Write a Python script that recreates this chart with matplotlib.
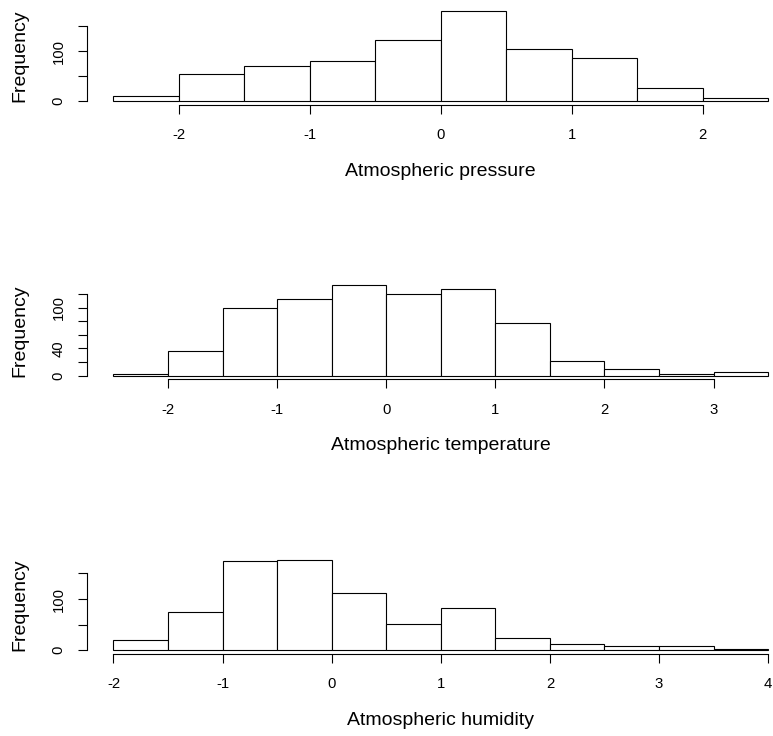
import numpy as np
import matplotlib
matplotlib.use("Agg")
import matplotlib.pyplot as plt

plt.rcParams["font.family"] = ["Liberation Sans", "DejaVu Sans"]
plt.rcParams["axes.unicode_minus"] = False

# histogram counts (bin width 0.5)
pressure_edges = np.arange(-2.5, 2.51, 0.5)
pressure_counts = [11, 54, 71, 80, 123, 180, 105, 87, 27, 7]

temperature_edges = np.arange(-2.5, 3.51, 0.5)
temperature_counts = [2, 36, 100, 113, 133, 120, 128, 77, 22, 10, 3, 6]

humidity_edges = np.arange(-2.0, 4.01, 0.5)
humidity_counts = [21, 74, 175, 176, 112, 51, 82, 24, 12, 9, 8, 2]

xlabels = ["Atmospheric pressure", "Atmospheric temperature", "Atmospheric humidity"]
xticks = [[-2, -1, 0, 1, 2], [-2, -1, 0, 1, 2, 3], [-2, -1, 0, 1, 2, 3, 4]]
yticks = [[0, 50, 100, 150], [0, 20, 40, 60, 80, 100, 120], [0, 50, 100, 150]]
yticklabels = [["0", "", "100", ""], ["0", "", "40", "", "", "100", ""], ["0", "", "100", ""]]

panels = [(pressure_edges, pressure_counts),
          (temperature_edges, temperature_counts),
          (humidity_edges, humidity_counts)]

W, H = 773, 736
fig = plt.figure(figsize=(W / 100, H / 100), dpi=100, facecolor="white")

left_px, width_px, height_px = 87.3, 707.0, 97.4
tops_px = [7.4, 281.8, 556.5]  # top of each plot region in pixels

for i, (edges, counts) in enumerate(panels):
    top = tops_px[i]
    ax = fig.add_axes([left_px / W, 1 - (top + height_px) / H, width_px / W, height_px / H])
    ax.patch.set_alpha(0)
    ax.bar(edges[:-1], counts, width=np.diff(edges), align="edge",
           facecolor="white", edgecolor="black", linewidth=0.8)

    # R style padding (4% each side)
    lo, hi = edges[0], edges[-1]
    pad = 0.04 * (hi - lo)
    ax.set_xlim(lo - pad, hi + pad)
    ymax = max(counts)
    ax.set_ylim(-0.04 * ymax, ymax * 1.04)

    for s in ["top", "right"]:
        ax.spines[s].set_visible(False)
    ax.spines["left"].set_bounds(yticks[i][0], yticks[i][-1])
    ax.spines["bottom"].set_bounds(xticks[i][0], xticks[i][-1])
    for s in ["left", "bottom"]:
        ax.spines[s].set_linewidth(0.8)

    ax.set_xticks(xticks[i])
    ax.set_xticklabels([str(t) for t in xticks[i]])
    ax.set_yticks(yticks[i])
    ax.set_yticklabels(yticklabels[i], rotation=90, va="center")
    ax.tick_params(axis="both", length=6.7, width=0.8, labelsize=10.7, direction="out")
    ax.tick_params(axis="x", pad=10.2)
    ax.tick_params(axis="y", pad=8.8)

    ax.text(0.5, -66.5 / height_px, xlabels[i], transform=ax.transAxes,
            ha="center", va="center", fontsize=14)
    fig.text(20 / W, 1 - (top + height_px / 2) / H, "Frequency", rotation=90,
             ha="center", va="center", fontsize=14)

plt.savefig("out.png", dpi=100)
